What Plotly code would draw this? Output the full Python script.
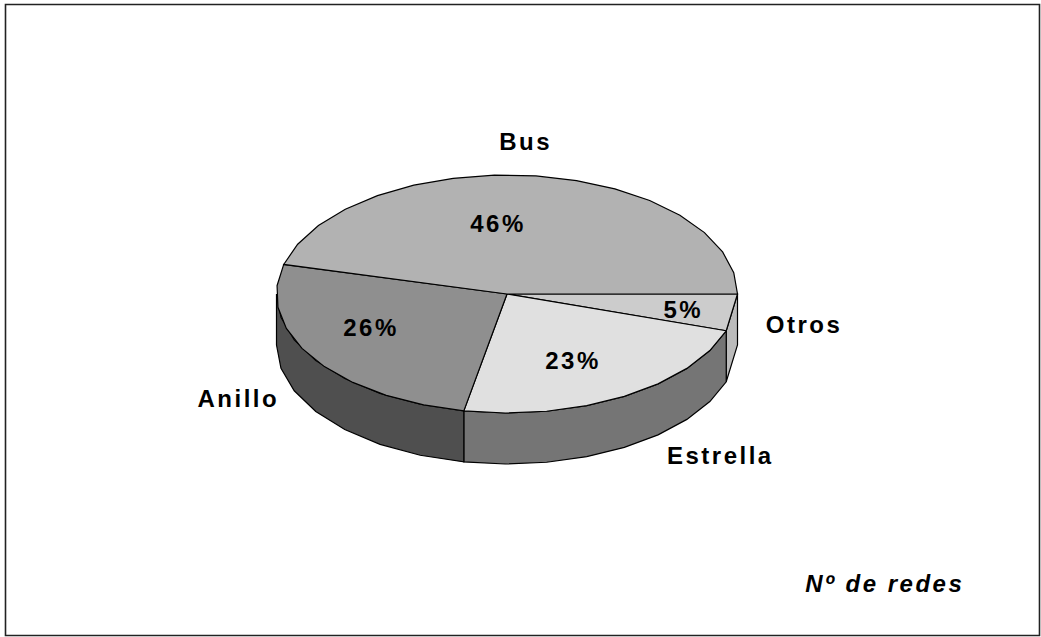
import numpy as np
import plotly.graph_objects as go

categories = ["Otros", "Estrella", "Anillo", "Bus"]
values = [5, 23, 26, 46]
top_colors = ["#CCCCCC", "#E0E0E0", "#8F8F8F", "#B2B2B2"]
side_colors = ["#BBBBBB", "#757575", "#4F4F4F", "#6A6A6A"]
pct_pos = [(683, 309), (573, 360), (371, 327), (498, 223)]
name_pos = [(804, 324), (720, 455), (238, 398), (525, 141)]

CX, CY, RX, RY, DEPTH = 507, 294, 230.5, 119, 51
W, H = 1041, 637


def arc(a0, a1, dy=0.0):
    n = max(2, int(abs(a1 - a0) / 10) + 1)
    t = np.radians(np.linspace(a0, a1, n))
    return CX + RX * np.cos(t), CY + dy + RY * np.sin(t)


fig = go.Figure()
edges = np.concatenate([[0], np.cumsum(values)]) * 3.6
LINE = dict(color="black", width=1.2)

# walls (only the front half of the disc, angles 0..180 clockwise on screen)
for i in range(len(values)):
    a0, a1 = edges[i], min(edges[i + 1], 180)
    if a0 >= 180:
        continue
    x0, y0 = arc(a0, a1)
    x1, y1 = arc(a1, a0, DEPTH)
    fig.add_trace(go.Scatter(
        x=np.r_[x0, x1, x0[0]], y=np.r_[y0, y1, y0[0]], mode="lines",
        fill="toself", fillcolor=side_colors[i],
        line=LINE, hoverinfo="skip", showlegend=False))

# top faces
for i in range(len(values)):
    xa, ya = arc(edges[i], edges[i + 1])
    fig.add_trace(go.Scatter(
        x=np.r_[CX, xa, CX], y=np.r_[CY, ya, CY], mode="lines",
        fill="toself", fillcolor=top_colors[i],
        line=LINE, hovertext=categories[i],
        hoverinfo="text", showlegend=False))

FONT = "Liberation Sans, Arial, sans-serif"
SIZE = 24
for i, c in enumerate(categories):
    fig.add_annotation(x=name_pos[i][0], y=name_pos[i][1], text=f"<b>{c}</b>",
                       showarrow=False, font=dict(family=FONT, size=SIZE, color="black"))
    fig.add_annotation(x=pct_pos[i][0], y=pct_pos[i][1], text=f"<b>{values[i]}%</b>",
                       showarrow=False, font=dict(family=FONT, size=SIZE, color="black"))
fig.add_annotation(x=884, y=583, text="<b><i>Nº de redes</i></b>", showarrow=False,
                   font=dict(family=FONT, size=SIZE, color="black"))

fig.add_shape(type="rect", x0=5.5, y0=4.5, x1=1039.5, y1=635.5,
              line=dict(color="#222222", width=1.6), layer="below")

fig.update_layout(
    width=W, height=H, margin=dict(l=0, r=0, t=0, b=0),
    paper_bgcolor="white", plot_bgcolor="white", showlegend=False,
    xaxis=dict(range=[0, W], visible=False, fixedrange=True),
    yaxis=dict(range=[H, 0], visible=False, fixedrange=True),
)

post = """
document.body.style.margin = '0';
document.querySelectorAll('.annotation-text').forEach(function (t) {
  t.style.letterSpacing = '2.5px';
});
"""
fig.write_html("out.html", post_script=post, config={"displayModeBar": False})
